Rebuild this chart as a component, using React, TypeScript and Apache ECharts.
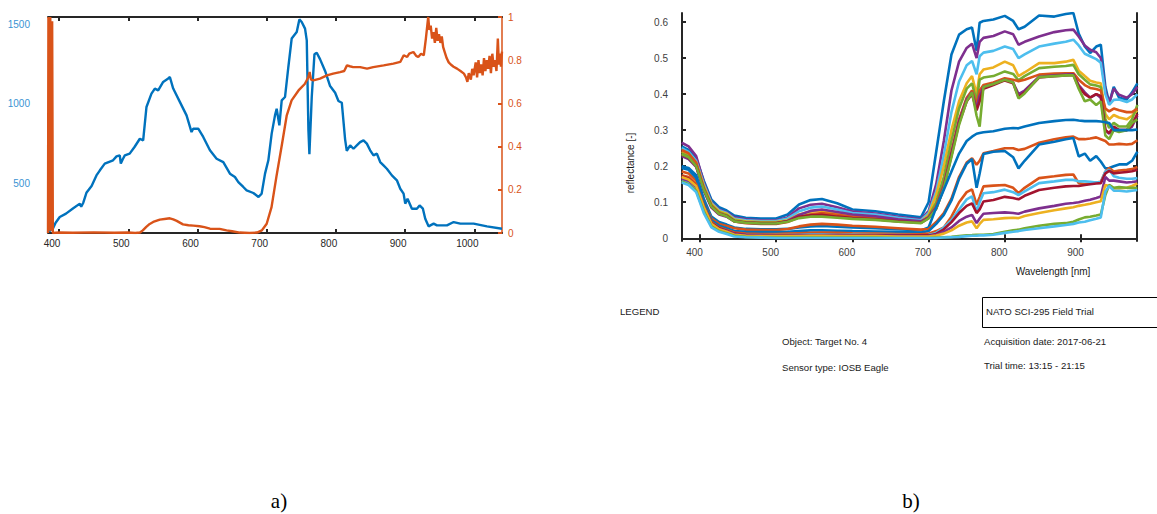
import React, { useEffect, useRef } from "react";
import * as echarts from "echarts";

// ---------- Chart a) ----------
const aXTicks = [400, 500, 600, 700, 800, 900, 1000];
const aLeftTicks = [500, 1000, 1500];
const aRightTicks = [0, 0.2, 0.4, 0.6, 0.8, 1];

const aBlueWl = [384.5, 386, 389, 391, 395, 401, 410, 420, 430, 432, 435, 439.5, 447, 454, 459, 466, 478, 483, 487.7, 489.2, 492, 495, 502, 509, 516.7, 521.5, 526.3, 533.5, 538.4, 543.2, 550.4, 557.7, 560.1, 564.9, 574.5, 584.2, 591.4, 593.8, 601.1, 608.3, 618, 627.6, 637.3, 646.9, 654.1, 659, 666.2, 671, 680.7, 688.2, 692.7, 697.6, 702.4, 707.2, 712, 714.4, 718.3, 721.7, 726.5, 731.3, 736.1, 743.4, 747.2, 750.6, 755.4, 757.9, 760.3, 761.7, 765.1, 769, 772.3, 777.2, 784.4, 791.6, 798.9, 803.7, 808.5, 813.3, 815.7, 820.6, 825.4, 830.2, 835, 839.9, 844.7, 849.5, 854.3, 859.2, 864, 868.8, 873.6, 880.9, 888.1, 893, 897.8, 900.2, 903.5, 909.8, 917, 920.9, 925.7, 929.1, 933.9, 941.2, 946, 960.5, 970.1, 979.8, 999, 1018.3, 1040];
const aBlueVal = [891, 195, 212, 212, 250, 286, 307, 339, 370, 351, 376, 438, 481, 548, 580, 622, 643, 668, 674, 622, 650, 674, 685, 727, 779, 769, 979, 1063, 1095, 1084, 1137, 1158, 1168, 1095, 1011, 926, 821, 842, 842, 790, 706, 653, 632, 559, 538, 506, 475, 454, 437, 412, 433, 559, 643, 811, 926, 968, 863, 1021, 1042, 1231, 1410, 1452, 1531, 1514, 1473, 1399, 832, 681, 1042, 1311, 1321, 1279, 1206, 1111, 1069, 1017, 1006, 775, 702, 737, 716, 737, 758, 769, 748, 706, 674, 685, 632, 611, 590, 548, 517, 464, 433, 370, 401, 338, 338, 359, 338, 275, 227, 244, 233, 233, 254, 244, 244, 227, 212];

const aOrangeWl = [384, 384.6, 386, 387.3, 388.6, 390, 391, 400, 420, 450, 480, 500, 510, 517, 521, 526, 531, 536, 545.6, 555, 560, 565, 570, 579, 587, 594, 603, 610, 618, 632, 642, 650, 661, 675, 686, 693, 700, 707, 714, 722, 729, 736, 746, 755, 760, 762, 764, 767.5, 777, 787, 796, 806, 812, 816, 820, 825, 835, 845, 854, 869, 883, 893, 898, 903, 906, 912, 916, 919, 923, 927, 930, 933.4, 935, 937, 939, 941, 943, 945, 947, 949, 951, 953, 955, 957, 960, 963, 966, 970, 975, 980, 985, 988, 990, 992, 995, 997, 999, 1002, 1004, 1006, 1008, 1010, 1012, 1014, 1016, 1018, 1020, 1022, 1024, 1026, 1028, 1030, 1032, 1034, 1035.5, 1037, 1038.5, 1040];
const aOrangeVal = [0, 1, 0.01, 1, 0.01, 0.98, 0, 0.002, 0.001, 0.003, 0.001, 0.002, 0, 0.002, 0.012, 0.028, 0.042, 0.051, 0.062, 0.066, 0.068, 0.063, 0.056, 0.04, 0.036, 0.034, 0.031, 0.027, 0.02, 0.019, 0.012, 0.008, 0.002, 0, 0.002, 0.012, 0.043, 0.12, 0.26, 0.41, 0.545, 0.614, 0.66, 0.69, 0.72, 0.745, 0.71, 0.707, 0.715, 0.73, 0.738, 0.745, 0.75, 0.776, 0.772, 0.768, 0.768, 0.761, 0.768, 0.776, 0.784, 0.792, 0.823, 0.815, 0.83, 0.838, 0.82, 0.815, 0.83, 0.823, 0.9, 1.0, 0.94, 0.96, 0.9, 0.93, 0.88, 0.95, 0.89, 0.92, 0.88, 0.91, 0.86, 0.84, 0.81, 0.79, 0.78, 0.77, 0.761, 0.75, 0.738, 0.72, 0.7, 0.74, 0.71, 0.76, 0.73, 0.79, 0.72, 0.8, 0.74, 0.78, 0.73, 0.81, 0.75, 0.8, 0.76, 0.82, 0.74, 0.83, 0.77, 0.8, 0.75, 0.9, 0.78, 0.83, 0.77, 0.84];

// ---------- Chart b) ----------
const bXTicks = [400, 500, 600, 700, 800, 900];
const bYTicks = [0, 0.1, 0.2, 0.3, 0.4, 0.5, 0.6];
const bWl = [376, 385, 395, 405, 415, 425, 435, 445, 460, 480,
  500, 515, 530, 545, 560, 580, 600, 630, 660, 690,
  700, 710, 720, 730, 740, 750, 757, 763, 767, 772,
  785, 800, 811, 818, 826, 845, 865, 880, 890, 897,
  905, 912, 920, 926, 932, 937, 943, 950, 960, 967,
  974];

const b01 = [.255, .245, .222, .16, .107, .086, .077, .063, .057, .055,
  .055, .066, .094, .106, .109, .097, .08, .075, .066, .058,
  .10, .24, .38, .51, .565, .58, .585, .52, .598, .603,
  .607, .617, .603, .58, .587, .618, .615, .622, .625, .568,
  .532, .514, .532, .537, .42, .375, .42, .39, .385, .405,
  .43];
const b02 = [.265, .255, .228, .155, .10, .08, .072, .058, .053, .05,
  .05, .058, .083, .093, .096, .086, .074, .069, .06, .053,
  .075, .15, .27, .41, .49, .528, .54, .5, .545, .556,
  .561, .574, .566, .537, .545, .56, .572, .577, .579, .56,
  .535, .523, .516, .5, .41, .375, .415, .398, .39, .40,
  .42];
const b03 = [.25, .24, .215, .15, .098, .078, .07, .055, .05, .048,
  .048, .055, .075, .085, .088, .08, .07, .066, .057, .05,
  .07, .13, .23, .35, .435, .48, .492, .455, .505, .515,
  .52, .532, .525, .50, .51, .532, .54, .545, .551, .535,
  .512, .505, .497, .487, .40, .37, .384, .385, .378, .385,
  .40];
const b04 = [.24, .232, .21, .145, .095, .075, .068, .052, .047, .045,
  .045, .05, .066, .074, .076, .07, .064, .06, .052, .046,
  .065, .12, .2, .30, .38, .43, .45, .40, .455, .468,
  .474, .49, .48, .45, .46, .486, .486, .49, .495, .465,
  .45, .437, .432, .43, .345, .33, .342, .335, .33, .34,
  .355];
const b05 = [.235, .228, .205, .14, .092, .072, .065, .05, .045, .043,
  .043, .048, .06, .066, .066, .062, .058, .054, .048, .044,
  .06, .10, .17, .27, .36, .415, .43, .38, .44, .446,
  .45, .463, .456, .438, .45, .472, .476, .478, .481, .455,
  .44, .427, .424, .42, .33, .306, .32, .31, .31, .33,
  .37];
const b06 = [.245, .236, .21, .14, .09, .07, .062, .047, .042, .04,
  .04, .045, .058, .066, .07, .065, .06, .056, .05, .045,
  .058, .09, .15, .24, .33, .39, .41, .37, .41, .425,
  .432, .444, .44, .436, .44, .454, .457, .458, .458, .44,
  .425, .417, .414, .41, .36, .352, .36, .355, .35, .35,
  .36];
const b07 = [.228, .22, .198, .132, .085, .066, .06, .047, .043, .041,
  .041, .048, .065, .076, .08, .073, .066, .061, .053, .047,
  .058, .085, .145, .235, .325, .385, .405, .36, .395, .42,
  .428, .44, .432, .40, .41, .448, .452, .454, .455, .425,
  .405, .39, .40, .39, .30, .29, .305, .30, .30, .31,
  .34];
const b08 = [.232, .224, .20, .135, .088, .068, .062, .048, .044, .042,
  .042, .047, .06, .064, .065, .06, .056, .053, .047, .043,
  .056, .082, .14, .23, .32, .38, .40, .355, .38, .415,
  .425, .438, .43, .392, .405, .446, .45, .452, .453, .42,
  .40, .39, .40, .395, .30, .292, .31, .30, .30, .315,
  .345];
const b09 = [.233, .225, .20, .135, .088, .068, .061, .047, .043, .041,
  .041, .046, .056, .06, .06, .057, .054, .051, .046, .042,
  .055, .082, .14, .225, .315, .38, .405, .34, .31, .42,
  .428, .44, .432, .388, .402, .447, .45, .452, .452, .415,
  .38, .385, .37, .38, .285, .275, .30, .295, .30, .32,
  .33];
const b10 = [.20, .195, .175, .11, .06, .045, .038, .03, .026, .025,
  .025, .026, .03, .033, .034, .032, .03, .028, .025, .022,
  .03, .085, .135, .185, .235, .27, .282, .29, .292, .294,
  .297, .304, .306, .305, .31, .32, .325, .328, .329, .327,
  .325, .325, .325, .324, .322, .32, .30, .30, .30, .30,
  .302];
const b11 = [.185, .18, .16, .10, .055, .04, .034, .028, .024, .023,
  .023, .026, .033, .038, .04, .038, .035, .032, .028, .024,
  .026, .045, .07, .11, .17, .21, .222, .204, .215, .236,
  .242, .25, .25, .245, .248, .265, .275, .28, .282, .275,
  .275, .277, .28, .275, .27, .26, .26, .262, .26, .262,
  .272];
const b12 = [.195, .19, .168, .10, .05, .035, .028, .02, .018, .017,
  .017, .018, .02, .022, .022, .021, .02, .019, .018, .016,
  .02, .04, .065, .105, .165, .207, .22, .14, .18, .234,
  .24, .242, .225, .194, .215, .26, .268, .275, .278, .227,
  .235, .215, .228, .213, .194, .195, .20, .205, .205, .215,
  .24];
const b13 = [.175, .17, .15, .09, .045, .03, .023, .016, .013, .012,
  .012, .013, .014, .015, .016, .015, .014, .013, .012, .011,
  .013, .02, .03, .06, .10, .128, .136, .093, .115, .144,
  .146, .148, .14, .125, .14, .167, .172, .176, .177, .153,
  .15, .152, .155, .157, .185, .195, .185, .188, .19, .192,
  .198];
const b14 = [.16, .155, .14, .085, .04, .026, .02, .012, .01, .009,
  .009, .009, .01, .011, .011, .01, .01, .009, .009, .008,
  .009, .015, .03, .05, .08, .108, .116, .074, .10, .125,
  .128, .135, .128, .12, .13, .153, .158, .162, .162, .158,
  .158, .157, .155, .155, .185, .19, .172, .168, .165, .165,
  .167];
const b15 = [.172, .165, .145, .088, .042, .028, .021, .013, .01, .009,
  .008, .008, .009, .009, .009, .009, .008, .008, .008, .008,
  .008, .012, .025, .045, .07, .09, .097, .07, .08, .102,
  .106, .115, .112, .108, .118, .134, .14, .144, .145, .145,
  .148, .15, .152, .153, .18, .187, .18, .182, .184, .186,
  .19];
const b16 = [.165, .16, .142, .085, .04, .026, .02, .012, .009, .008,
  .007, .007, .008, .008, .008, .008, .007, .007, .007, .006,
  .006, .01, .018, .03, .048, .06, .065, .042, .055, .068,
  .07, .072, .07, .068, .074, .083, .09, .096, .098, .10,
  .104, .107, .112, .116, .17, .16, .16, .158, .155, .156,
  .158];
const b17 = [.17, .163, .145, .087, .04, .025, .018, .01, .007, .006,
  .006, .006, .006, .007, .007, .006, .006, .006, .005, .005,
  .005, .008, .013, .022, .035, .044, .047, .028, .04, .051,
  .053, .056, .057, .056, .062, .07, .078, .083, .086, .09,
  .093, .096, .10, .103, .148, .145, .138, .138, .14, .145,
  .152];
const b18 = [.158, .15, .132, .075, .033, .02, .014, .007, .004, .003,
  .002, .002, .002, .002, .002, .002, .002, .002, .001, .001,
  .001, .002, .003, .004, .006, .008, .009, .01, .01, .01,
  .012, .018, .022, .024, .028, .035, .04, .042, .046, .052,
  .058, .06, .063, .066, .12, .148, .14, .142, .14, .14,
  .14];
const b19 = [.155, .148, .128, .07, .03, .018, .012, .005, .003, .002,
  .001, .001, .001, .001, .001, .001, .001, .001, .001, .001,
  .001, .001, .002, .003, .004, .006, .007, .007, .008, .008,
  .01, .015, .018, .02, .023, .028, .033, .037, .04, .044,
  .046, .05, .054, .058, .13, .145, .132, .132, .13, .132,
  .134];

const bLines = [b01, b02, b03, b04, b05, b06, b07, b08, b09, b10, b11, b12, b13, b14, b15, b16, b17, b18, b19];
const bColors = ["#0072BD", "#7E2F8E", "#4DBEEE", "#EDB120", "#77AC30", "#D95319", "#7E2F8E", "#A2142F", "#77AC30", "#0072BD", "#D95319", "#0072BD", "#D95319", "#4DBEEE", "#A2142F", "#7E2F8E", "#EDB120", "#77AC30", "#4DBEEE"];

const SANS = "Liberation Sans, Arial, sans-serif";
const SERIF = "Liberation Serif, Times New Roman, serif";
const FRAME = "#262626";

function zip(xs: number[], ys: number[]) {
  return xs.map((x, i) => [x, ys[i]]);
}

export default function App() {
  const ref = useRef<HTMLDivElement>(null);
  useEffect(() => {
    if (!ref.current) return;
    const chart = echarts.init(ref.current, undefined, { renderer: "svg" });
    const txt = (text: string, x: number, y: number, size: number, align = "left", extra: any = {}) => ({
      type: "text",
      x,
      y,
      ...extra,
      style: { text, fontSize: size, fontFamily: SANS, fill: "#1a1a1a", textAlign: align, textVerticalAlign: "middle" },
    });
    const plain = (v: number) => String(v);
    const option: any = {
      animation: false,
      backgroundColor: "#ffffff",
      grid: [
        { left: 48, top: 17, width: 454, height: 216 },
        { left: 682, top: 13, width: 455, height: 228 },
      ],
      xAxis: [
        {
          gridIndex: 0, type: "value", min: 384, max: 1040, position: "bottom",
          axisLine: { show: true, lineStyle: { color: FRAME, width: 2 } },
          axisTick: { show: true, inside: true, length: 4, customValues: aXTicks, lineStyle: { color: FRAME, width: 2 } },
          axisLabel: { customValues: aXTicks, formatter: plain, color: "#262626", fontSize: 10, fontFamily: SANS, margin: 5, padding: [0, 14, 0, 0] },
          splitLine: { show: false },
        },
        {
          gridIndex: 0, type: "value", min: 384, max: 1040, position: "top",
          axisLine: { show: true, lineStyle: { color: FRAME, width: 2 } },
          axisTick: { show: true, inside: true, length: 4, customValues: aXTicks, lineStyle: { color: FRAME, width: 2 } },
          axisLabel: { show: false },
          splitLine: { show: false },
        },
        {
          gridIndex: 1, type: "value", min: 376.4, max: 973.5, position: "bottom",
          axisLine: { show: true, lineStyle: { color: FRAME, width: 2 } },
          axisTick: { show: true, inside: true, length: 4, customValues: bXTicks, lineStyle: { color: FRAME, width: 2 } },
          axisLabel: { customValues: bXTicks, formatter: plain, color: "#404040", fontSize: 10, fontFamily: SANS, margin: 6, padding: [0, 11, 0, 0] },
          splitLine: { show: false },
        },
        {
          gridIndex: 1, type: "value", min: 376.4, max: 973.5, position: "top",
          axisLine: { show: true, lineStyle: { color: FRAME, width: 2 } },
          axisTick: { show: true, inside: true, length: 4, customValues: bXTicks, lineStyle: { color: FRAME, width: 2 } },
          axisLabel: { show: false },
          splitLine: { show: false },
        },
      ],
      yAxis: [
        {
          gridIndex: 0, type: "value", min: 185, max: 1546, position: "left",
          axisLine: { show: true, lineStyle: { color: "#0072BD", width: 1 } },
          axisTick: { show: true, inside: true, length: 3, customValues: aLeftTicks, lineStyle: { color: "#0072BD", width: 2 } },
          axisLabel: { customValues: aLeftTicks, formatter: plain, color: "#3a93d3", fontSize: 10, fontFamily: SANS, margin: 18, padding: [0, 0, 7, 0] },
          splitLine: { show: false },
        },
        {
          gridIndex: 0, type: "value", min: 0, max: 1, position: "right",
          axisLine: { show: true, lineStyle: { color: "#D95319", width: 1.5 } },
          axisTick: { show: true, inside: true, length: 4, customValues: aRightTicks, lineStyle: { color: "#D95319", width: 2 } },
          axisLabel: { customValues: aRightTicks, formatter: plain, color: "#D95319", fontSize: 10, fontFamily: SANS, margin: 6, padding: [0, 0, 7, 0] },
          splitLine: { show: false },
        },
        {
          gridIndex: 1, type: "value", min: -0.0075, max: 0.625, position: "left",
          axisLine: { show: true, lineStyle: { color: FRAME, width: 2 } },
          axisTick: { show: true, inside: true, length: 4, customValues: bYTicks, lineStyle: { color: FRAME, width: 2 } },
          axisLabel: {
            customValues: bYTicks, color: "#404040", fontSize: 10, fontFamily: SANS, margin: 14, padding: [0, 0, 7, 0],
            formatter: (v: number) => (v === 0 ? "0" : v.toFixed(1)),
          },
          splitLine: { show: false },
        },
        {
          gridIndex: 1, type: "value", min: -0.0075, max: 0.625, position: "right",
          axisLine: { show: true, lineStyle: { color: FRAME, width: 2 } },
          axisTick: { show: true, inside: true, length: 4, customValues: bYTicks, lineStyle: { color: FRAME, width: 2 } },
          axisLabel: { show: false },
          splitLine: { show: false },
        },
      ],
      series: [
        {
          type: "line", xAxisIndex: 0, yAxisIndex: 0, data: zip(aBlueWl, aBlueVal), showSymbol: false,
          lineStyle: { color: "#0072BD", width: 2.4 }, itemStyle: { color: "#0072BD" }, clip: true,
        },
        {
          type: "line", xAxisIndex: 0, yAxisIndex: 1, data: zip(aOrangeWl, aOrangeVal), showSymbol: false,
          lineStyle: { color: "#D95319", width: 2.4 }, itemStyle: { color: "#D95319" }, clip: true,
        },
        ...bLines.map((vals, i) => ({
          type: "line", xAxisIndex: 2, yAxisIndex: 2, data: zip(bWl, vals), showSymbol: false,
          lineStyle: { color: bColors[i], width: 2.6 }, itemStyle: { color: bColors[i] }, clip: true,
        })),
      ],
      graphic: [
        txt("reflectance [-]", 630, 163, 10, "center", { rotation: Math.PI / 2 }),
        txt("Wavelength [nm]", 1053, 271, 10, "center"),
        txt("LEGEND", 620, 311, 9.6),
        txt("Object: Target No. 4", 782, 341, 9.6),
        txt("Sensor type: IOSB Eagle", 782, 367, 9.6),
        {
          type: "rect", shape: { x: 982.5, y: 297.5, width: 200, height: 30 },
          style: { fill: "none", stroke: "#000", lineWidth: 1 },
        },
        txt("NATO SCI-295 Field Trial", 986, 311, 9.6),
        txt("Acquisition date: 2017-06-21", 984, 341, 9.6),
        txt("Trial time: 13:15 - 21:15", 984, 365, 9.6),
        {
          type: "text", x: 279, y: 501,
          style: { text: "a)", fontSize: 21, fontFamily: SERIF, fill: "#000", textAlign: "center", textVerticalAlign: "middle" },
        },
        {
          type: "text", x: 911, y: 501,
          style: { text: "b)", fontSize: 21, fontFamily: SERIF, fill: "#000", textAlign: "center", textVerticalAlign: "middle" },
        },
      ],
    };
    chart.setOption(option);
    return () => chart.dispose();
  }, []);
  return (
    <div
      ref={ref}
      style={{ position: "absolute", left: 0, top: 0, width: 1157, height: 514, background: "#fff" }}
    />
  );
}
